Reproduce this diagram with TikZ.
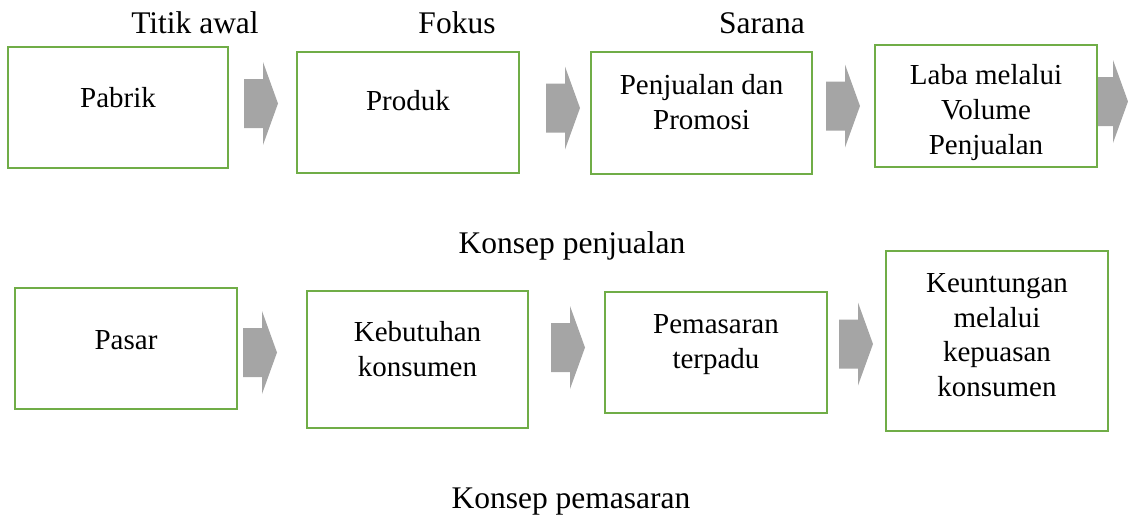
\documentclass[tikz,border=0pt]{standalone}
\usepackage{fontspec}
\setmainfont{Liberation Serif}
\definecolor{boxgreen}{HTML}{70AD47}
\definecolor{arrowgray}{HTML}{A5A5A5}
\tikzset{
    box/.style={draw=boxgreen, line width=2.5pt, fill=white, inner sep=0pt,
        outer sep=0pt, minimum width=221pt, minimum height=121pt},
    txt/.style={align=center, inner sep=0pt, font=\fontsize{29}{35}\selectfont},
    lbl/.style={anchor=base, inner sep=0pt, font=\fontsize{31.5}{38}\selectfont},
}
\begin{document}
\begin{tikzpicture}[x=1pt,y=-1pt]
    \useasboundingbox (0,0) rectangle (1128,517);

    % grey block arrows (drawn first, the last one sits under its box)
    \foreach \x/\y in {244/103.5, 546/108, 826/106, 1094/101.5, 243/352.5, 551/347.5, 839/344}
        \fill[arrowgray] (\x,\y-24.5) -- ++(19,0) -- ++(0,-17) -- ++(15,41.5)
            -- ++(-15,41.5) -- ++(0,-17) -- ++(-19,0) -- cycle;

    % Konsep penjualan
    \node[box, minimum width=220] (pabrik) at (118,107.5) {};
    \node[box, minimum width=222] (produk) at (408,112.5) {};
    \node[box, minimum height=122] (penjualan) at (701.5,113) {};
    \node[box, minimum width=222, minimum height=122] (laba) at (986,106) {};

    \node[txt] (pabrikTxt) at ([yshift=9.5]pabrik.center) {Pabrik};
    \node[txt] (produkTxt) at ([yshift=12]produk.center) {Produk};
    \node[txt] (penjualanTxt) at ([yshift=11]penjualan.center) {Penjualan dan\\Promosi};
    \node[txt] (labaTxt) at ([yshift=-6.5]laba.center) {Laba melalui\\Volume\\Penjualan};

    \node[lbl] (titik) at (195,33) {Titik awal};
    \node[lbl] (fokus) at (457,33) {Fokus};
    \node[lbl] (sarana) at (762,33) {Sarana};
    \node[lbl] (kJual) at (572,253) {Konsep penjualan};

    % Konsep pemasaran
    \node[box, minimum width=222] (pasar) at (126,348.5) {};
    \node[box, minimum height=137] (kebutuhan) at (417.5,359.5) {};
    \node[box, minimum width=222] (pemasaran) at (716,352.5) {};
    \node[box, minimum width=222, minimum height=180] (untung) at (997,341) {};

    \node[txt] (pasarTxt) at ([yshift=8.5]pasar.center) {Pasar};
    \node[txt] (kebutuhanTxt) at ([yshift=10.5]kebutuhan.center) {Kebutuhan\\konsumen};
    \node[txt] (pemasaranTxt) at ([yshift=8]pemasaran.center) {Pemasaran\\terpadu};
    \node[txt, font=\fontsize{29}{34.5}\selectfont] (untungTxt) at ([yshift=6]untung.center)
        {Keuntungan\\melalui\\kepuasan\\konsumen};

    \node[lbl] (kPasar) at (571,508) {Konsep pemasaran};
\end{tikzpicture}
\end{document}
